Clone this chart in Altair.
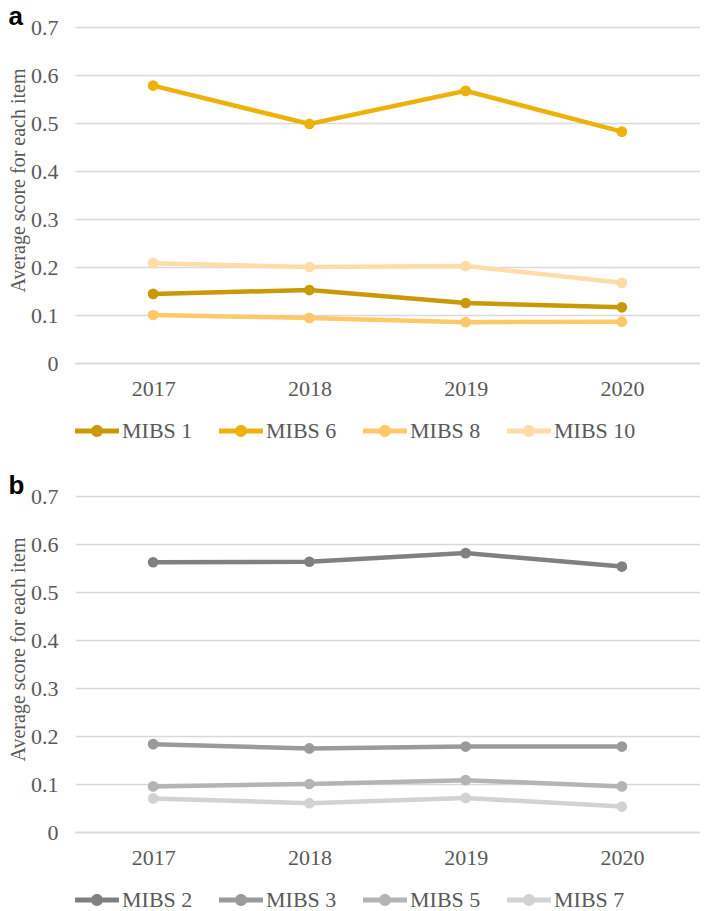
import altair as alt
import pandas as pd

years = ["2017", "2018", "2019", "2020"]

series_a = ["MIBS 1", "MIBS 6", "MIBS 8", "MIBS 10"]
values_a = {
    "MIBS 1": [0.144, 0.152, 0.125, 0.116],
    "MIBS 6": [0.578, 0.498, 0.567, 0.482],
    "MIBS 8": [0.100, 0.094, 0.085, 0.086],
    "MIBS 10": [0.208, 0.200, 0.202, 0.167],
}
colors_a = ["#C99A06", "#EDB10A", "#FFC869", "#FFDCA8"]

series_b = ["MIBS 2", "MIBS 3", "MIBS 5", "MIBS 7"]
values_b = {
    "MIBS 2": [0.562, 0.563, 0.581, 0.553],
    "MIBS 3": [0.183, 0.174, 0.178, 0.178],
    "MIBS 5": [0.095, 0.100, 0.108, 0.095],
    "MIBS 7": [0.070, 0.060, 0.071, 0.053],
}
colors_b = ["#808080", "#9A9A9A", "#B4B4B4", "#D2D2D2"]

y_ticks = [0, 0.1, 0.2, 0.3, 0.4, 0.5, 0.6, 0.7]

SERIF = "Liberation Serif"
TXT = "#595959"
GRID = "#D9D9D9"

SYMBOL = ("M-1,-0.11H1V0.11H-1Z "
          "M0.27,0A0.27,0.27 0 1,1 -0.27,0A0.27,0.27 0 1,1 0.27,0Z")


def long_df(series, values):
    rows = []
    for s in series:
        for y, v in zip(years, values[s]):
            rows.append({"year": y, "series": s, "value": v})
    return pd.DataFrame(rows)


def panel(letter, series, values, colors):
    df = long_df(series, values)
    x = alt.X("year:O", title=None, sort=years,
              scale=alt.Scale(paddingInner=0, paddingOuter=0.5),
              axis=alt.Axis(labelAngle=0, ticks=False, domainColor=GRID,
                            domainWidth=1.5, labelPadding=15))
    y = alt.Y("value:Q", title="Average score for each item",
              scale=alt.Scale(domain=[0, 0.7], nice=False),
              axis=alt.Axis(values=y_ticks, format="~g", domain=False,
                            ticks=False, gridColor=GRID, gridWidth=1.5,
                            labelPadding=17, titlePadding=2, titleY=153))
    color = alt.Color("series:N", sort=series,
                      scale=alt.Scale(domain=series, range=colors),
                      legend=alt.Legend(title=None, orient="bottom",
                                        direction="horizontal",
                                        symbolType=SYMBOL, symbolSize=1936,
                                        symbolStrokeWidth=0,
                                        labelFont=SERIF, labelFontSize=22,
                                        labelColor=TXT, columnPadding=26,
                                        labelOffset=3, offset=10))
    base = alt.Chart(df).encode(x=x, y=y, color=color)
    line = base.mark_line(strokeWidth=4.5)
    pts = base.mark_circle(size=115, opacity=1)
    return alt.layer(line, pts).properties(
        width=625, height=336,
        title=alt.TitleParams(letter, anchor="start", font="Liberation Sans",
                              fontSize=26, fontWeight="bold", color="#000000",
                              frame="bounds", offset=-14),
    )


chart = alt.vconcat(
    panel("a", series_a, values_a, colors_a),
    panel("b", series_b, values_b, colors_b),
    spacing=31,
).resolve_scale(color="independent").configure_view(stroke=None).configure_axis(
    labelFont=SERIF, labelFontSize=22, labelColor=TXT,
    titleFont=SERIF, titleFontSize=20, titleColor=TXT, titleFontWeight="normal",
).properties(padding={"left": 0, "top": -4, "right": 0, "bottom": 0})

chart.save("out.html", embed_options={"renderer": "svg", "actions": False})
